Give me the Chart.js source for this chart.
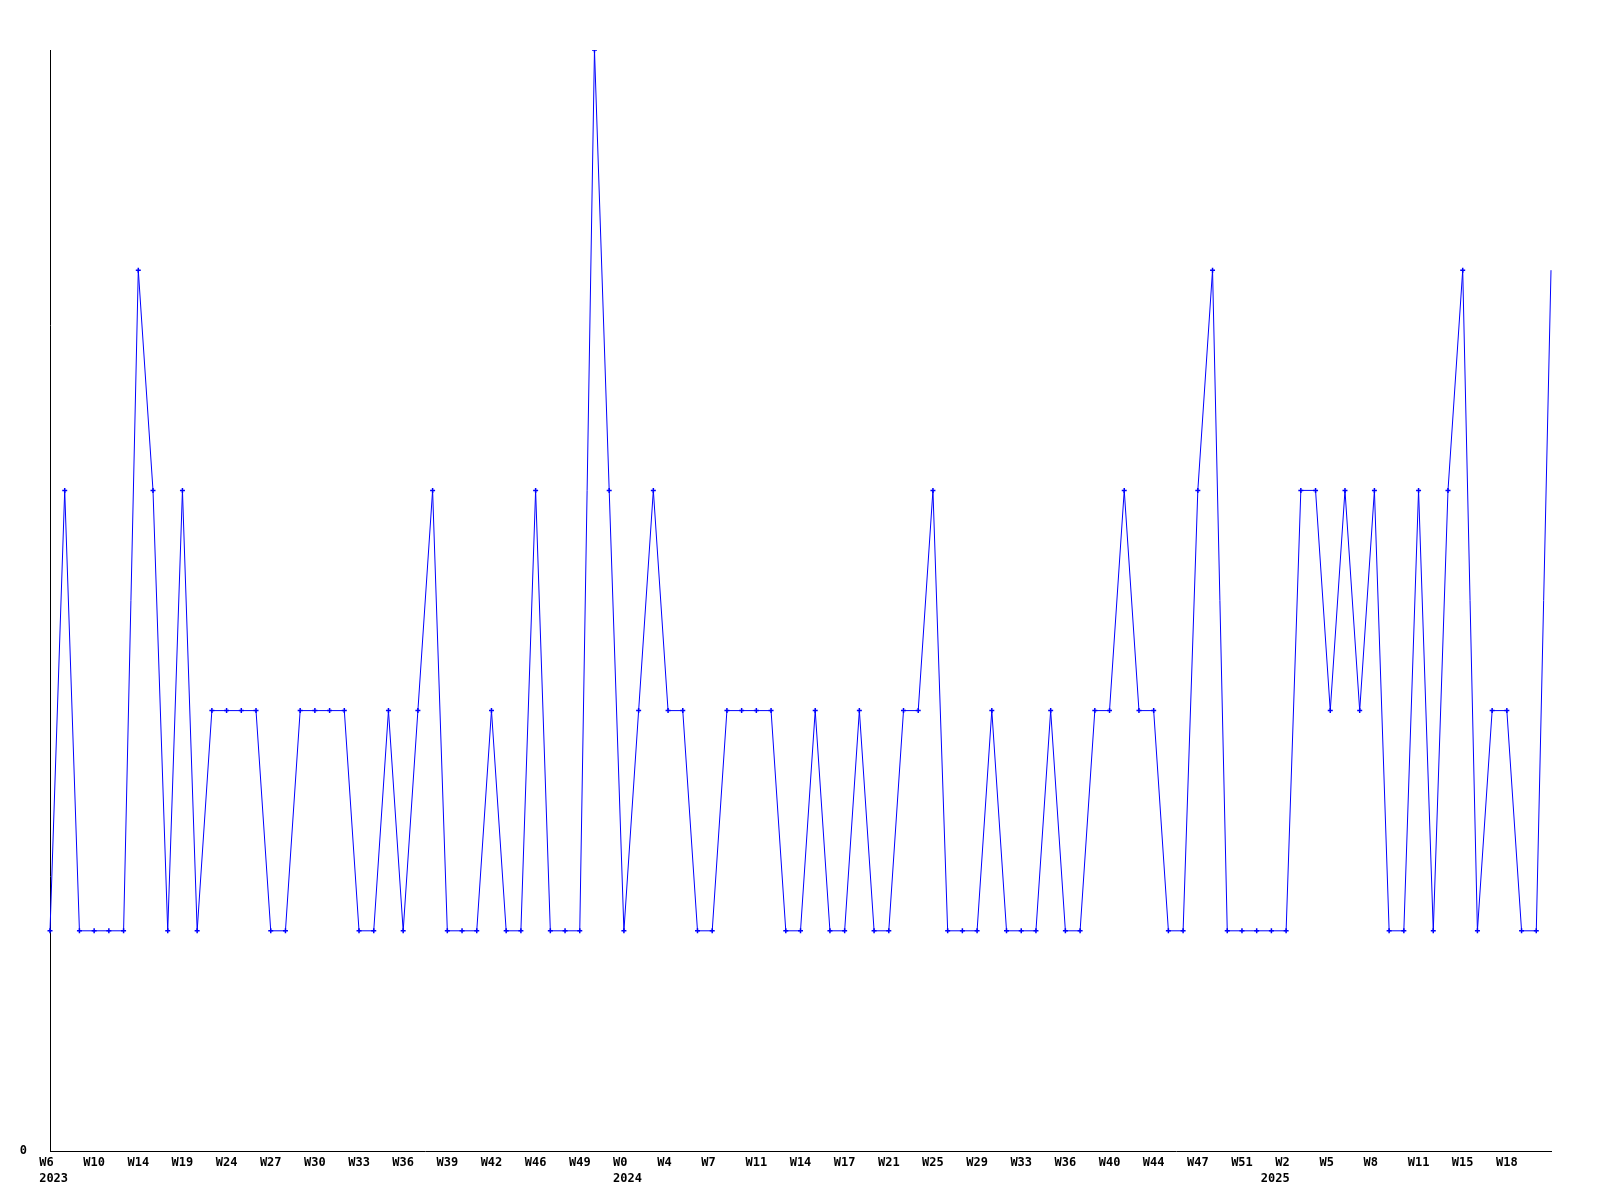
<!DOCTYPE html>
<html>
<head>
<meta charset="utf-8">
<script src="https://cdn.jsdelivr.net/npm/chart.js@4/dist/chart.umd.min.js"></script>
<style>
  html, body { margin: 0; padding: 0; background: #fff; }
  canvas { display: block; }
</style>
</head>
<body>
<canvas id="grafico" width="1600" height="1200"></canvas>
<script>
// valores semanales (103 puntos)
const valores = [
  1, 3, 1, 1, 1, 1, 4, 3, 1, 3,
  1, 2, 2, 2, 2, 1, 1, 2, 2, 2,
  2, 1, 1, 2, 1, 2, 3, 1, 1, 1,
  2, 1, 1, 3, 1, 1, 1, 5, 3, 1,
  2, 3, 2, 2, 1, 1, 2, 2, 2, 2,
  1, 1, 2, 1, 1, 2, 1, 1, 2, 2,
  3, 1, 1, 1, 2, 1, 1, 1, 2, 1,
  1, 2, 2, 3, 2, 2, 1, 1, 3, 4,
  1, 1, 1, 1, 1, 3, 3, 2, 3, 2,
  3, 1, 1, 3, 1, 3, 4, 1, 2, 2,
  1, 1, 4
];

// etiquetas del eje x, una cada 3 puntos
const semanas = [
  'W6', 'W10', 'W14', 'W19', 'W24', 'W27', 'W30', 'W33', 'W36', 'W39', 'W42', 'W46', 'W49',
  'W0', 'W4', 'W7', 'W11', 'W14', 'W17', 'W21', 'W25', 'W29', 'W33', 'W36', 'W40', 'W44', 'W47', 'W51',
  'W2', 'W5', 'W8', 'W11', 'W15', 'W18'
];
// año que va debajo de algunas semanas (indice dentro de semanas)
const anioIndice = [0, 13, 28];
const anioTexto = ['2023', '2024', '2025'];

const colorLinea = 'rgb(0, 0, 255)';
const fuente = { family: "'DejaVu Sans Mono', monospace", size: 12, weight: 'bold', lineHeight: 16 / 12 };

const categorias = valores.map((v, i) => {
  const k = i / 3;
  if (i % 3 !== 0 || k >= semanas.length) return '';
  return semanas[k];
});

// relleno con espacios para que el texto quede a la izquierda de la marca (fuente monoespaciada)
function rellenar(txt) {
  return txt.length === 2 ? txt + ' ' : txt;
}

const ctx = document.getElementById('grafico');
const grafico = new Chart(ctx, {
  type: 'line',
  data: {
    labels: categorias,
    datasets: [{
      data: valores,
      borderColor: colorLinea,
      backgroundColor: colorLinea,
      borderWidth: 1,
      tension: 0,
      fill: false,
      pointStyle: 'cross',
      pointRadius: valores.map((v, i) => i === valores.length - 1 ? 0 : 2.5),
      pointBorderWidth: 1.5,
      pointBorderColor: colorLinea
    }]
  },
  options: {
    responsive: false,
    animation: false,
    events: [],
    layout: { padding: { top: 50, right: 49, bottom: 0, left: 0 } },
    plugins: {
      legend: { display: false },
      tooltip: { enabled: false }
    },
    scales: {
      x: {
        type: 'category',
        offset: false,
        grid: { display: false, drawTicks: false },
        border: { display: true, color: '#000', width: 1 },
        ticks: {
          autoSkip: false,
          maxRotation: 0,
          minRotation: 0,
          align: 'center',
          padding: 4,
          color: '#000',
          font: fuente,
          callback: function (value, index) {
            const lab = categorias[index];
            if (!lab) return '';
            const k = index / 3;
            const a = anioIndice.indexOf(k);
            if (a === -1) return rellenar(lab);
            // 2025 aparece alineado a la derecha en el original
            const anio = a === 2 ? anioTexto[a] + '   ' : ' ' + anioTexto[a];
            return [rellenar(lab), anio];
          }
        },
        afterFit: function (scale) {
          scale.height = 49;
          scale.paddingLeft = 0;
          scale.paddingRight = 0;
        }
      },
      y: {
        min: 0,
        max: 5,
        grid: { display: false, drawTicks: false },
        border: { display: true, color: '#000', width: 1 },
        ticks: {
          padding: 23,
          color: '#000',
          font: fuente
        },
        afterBuildTicks: function (scale) {
          scale.ticks = [{ value: 0 }];
        },
        afterFit: function (scale) {
          scale.width = 50;
          scale.paddingTop = 0;
          scale.paddingBottom = 0;
        }
      }
    }
  }
});
</script>
</body>
</html>
